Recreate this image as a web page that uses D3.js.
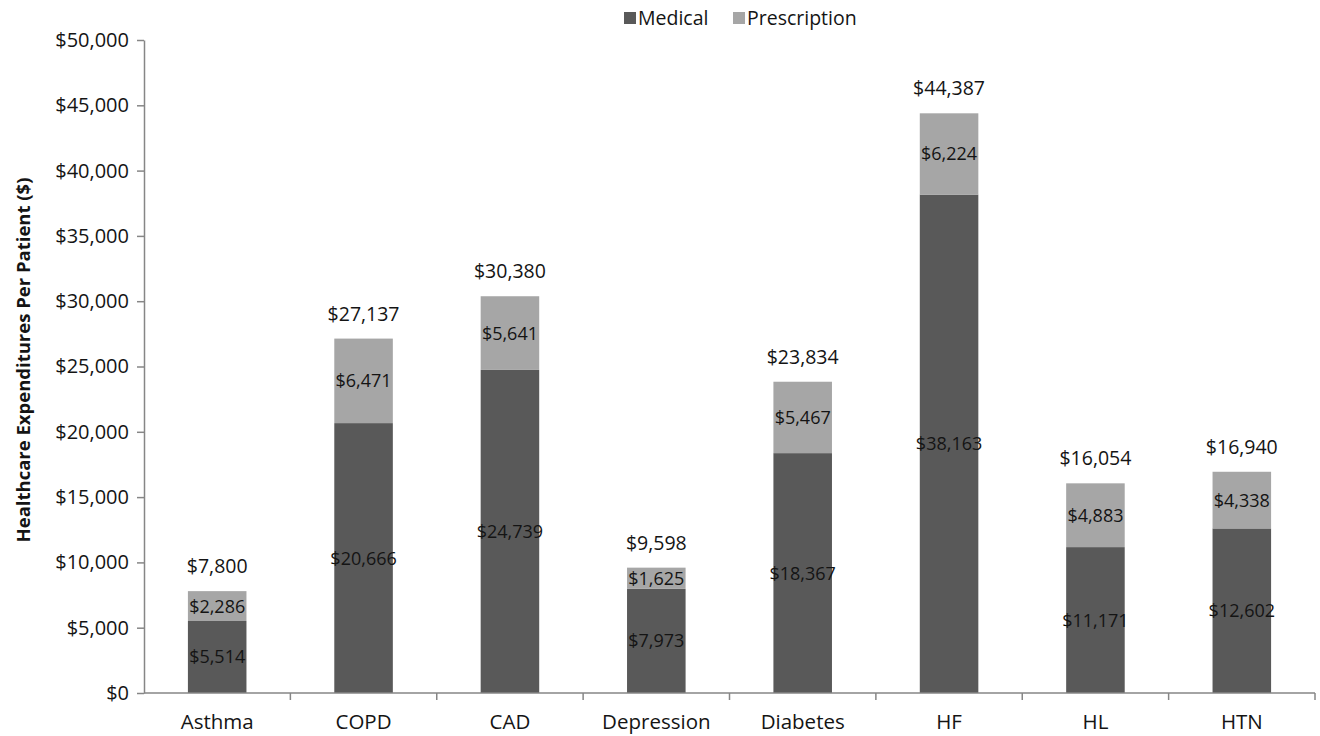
<!DOCTYPE html>
<html>
<head>
<meta charset="utf-8">
<script src="https://cdn.jsdelivr.net/npm/d3@7"></script>
<style>
  html, body { margin: 0; padding: 0; background: #fff; }
  svg { display: block; font-family: "Open Sans", Lato, sans-serif; }
</style>
</head>
<body>
<svg id="chart" width="1320" height="736"></svg>
<script>
// Per-patient healthcare expenditures by condition
const categories = ["Asthma", "COPD", "CAD", "Depression", "Diabetes", "HF", "HL", "HTN"];
const medical = [5514, 20666, 24739, 7973, 18367, 38163, 11171, 12602];
const prescription = [2286, 6471, 5641, 1625, 5467, 6224, 4883, 4338];
const totals = [7800, 27137, 30380, 9598, 23834, 44387, 16054, 16940];
const seriesNames = ["Medical", "Prescription"];
const yTicks = [0, 5000, 10000, 15000, 20000, 25000, 30000, 35000, 40000, 45000, 50000];

const colors = { Medical: "#595959", Prescription: "#a6a6a6" };
const textColor = "#141414";
const axisColor = "#868686";

const svg = d3.select("#chart");
const left = 144, right = 1315;

const x = d3.scaleBand()
  .domain(categories)
  .range([left, right])
  .paddingInner(0.6)
  .paddingOuter(0.3);

const y = d3.scaleLinear()
  .domain([0, 50000])
  .range([693, 40]);

const fmt = v => "$" + d3.format(",")(v);

// Stack the two spending components
const rows = categories.map((c, i) => ({ cat: c, Medical: medical[i], Prescription: prescription[i], total: totals[i] }));
const stacked = d3.stack().keys(seriesNames)(rows);

// Bars
svg.append("g").selectAll("g")
  .data(stacked)
  .join("g")
  .attr("fill", d => colors[d.key])
  .selectAll("rect")
  .data(d => d)
  .join("rect")
  .attr("x", d => x(d.data.cat))
  .attr("width", x.bandwidth())
  .attr("y", d => y(d[1]))
  .attr("height", d => y(d[0]) - y(d[1]));

// Segment value labels
stacked.forEach(layer => {
  svg.append("g").selectAll("text")
    .data(layer)
    .join("text")
    .attr("x", d => x(d.data.cat) + x.bandwidth() / 2)
    .attr("y", d => y((d[0] + d[1]) / 2))
    .attr("dy", "0.36em")
    .attr("text-anchor", "middle")
    .attr("font-size", 18)
    .attr("fill", textColor)
    .text(d => fmt(d[1] - d[0]));
});

// Total labels above bars
svg.append("g").selectAll("text")
  .data(rows)
  .join("text")
  .attr("x", d => x(d.cat) + x.bandwidth() / 2)
  .attr("y", d => y(d.total) - 18)
  .attr("text-anchor", "middle")
  .attr("font-size", 19.5)
  .attr("fill", textColor)
  .text(d => fmt(d.total));

// Y axis
const yAxis = svg.append("g")
  .attr("transform", `translate(${left},0)`)
  .call(d3.axisLeft(y).tickValues(yTicks).tickFormat(fmt).tickSize(7).tickPadding(8).tickSizeOuter(0));
yAxis.select(".domain").attr("stroke", axisColor).attr("stroke-width", 1.5);
yAxis.selectAll(".tick line").attr("stroke", axisColor).attr("stroke-width", 1.5);
yAxis.selectAll(".tick text").attr("font-size", 20).attr("fill", textColor).attr("font-family", "'Open Sans', Lato, sans-serif");

// X axis with boundary ticks between categories
const xAxisG = svg.append("g").attr("transform", "translate(0,693)");
xAxisG.append("line")
  .attr("x1", left).attr("x2", right)
  .attr("stroke", axisColor).attr("stroke-width", 1.5);
const step = x.step();
const boundaries = d3.range(1, categories.length + 1).map(i => left + i * step);
xAxisG.selectAll("line.tick")
  .data(boundaries)
  .join("line")
  .attr("class", "tick")
  .attr("x1", d => d).attr("x2", d => d)
  .attr("y1", 0).attr("y2", 7)
  .attr("stroke", axisColor).attr("stroke-width", 1.5);
xAxisG.selectAll("text")
  .data(categories)
  .join("text")
  .attr("x", d => x(d) + x.bandwidth() / 2)
  .attr("y", 29)
  .attr("dy", "0.36em")
  .attr("text-anchor", "middle")
  .attr("font-size", 20.5)
  .attr("fill", textColor)
  .text(d => d);

// Y axis title
svg.append("text")
  .attr("transform", "translate(23,360) rotate(-90)")
  .attr("text-anchor", "middle")
  .attr("dy", "0.36em")
  .attr("font-size", 18.5)
  .attr("font-weight", "bold")
  .attr("fill", textColor)
  .text("Healthcare Expenditures Per Patient ($)");

// Legend
const legend = svg.append("g");
const legendItems = [{ name: "Medical", x: 624 }, { name: "Prescription", x: 733 }];
legendItems.forEach(it => {
  legend.append("rect")
    .attr("x", it.x).attr("y", 12)
    .attr("width", 12).attr("height", 12)
    .attr("fill", colors[it.name]);
  legend.append("text")
    .attr("x", it.x + 14).attr("y", 18)
    .attr("dy", "0.36em")
    .attr("font-size", 19.5)
    .attr("fill", textColor)
    .text(it.name);
});
</script>
</body>
</html>
